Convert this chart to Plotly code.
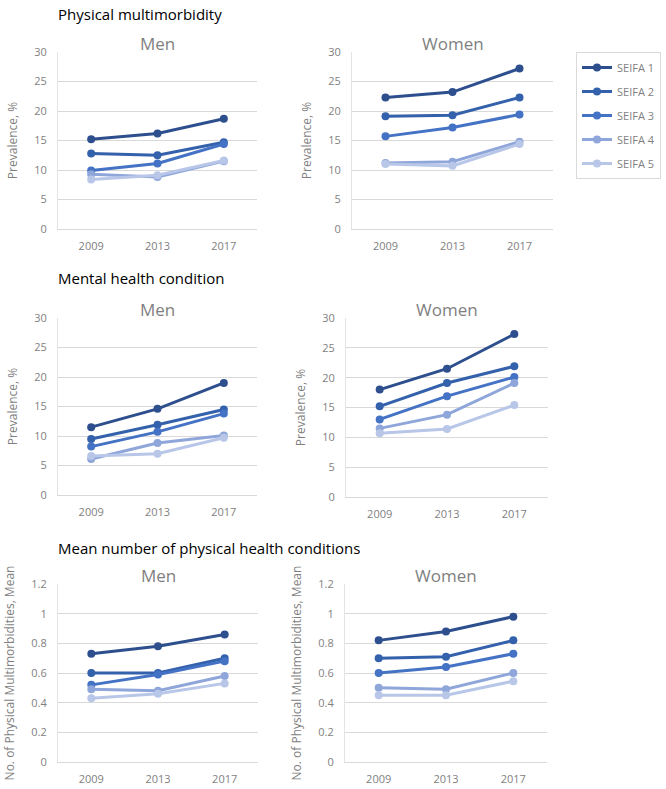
import plotly.graph_objects as go

W, H = 666, 789

years = ["2009", "2013", "2017"]
series_names = ["SEIFA 1", "SEIFA 2", "SEIFA 3", "SEIFA 4", "SEIFA 5"]
colors = ["#2E4F8E", "#3461AB", "#4472C4", "#8FA6DA", "#B8C6E8"]

phys_men = [
    [15.2, 16.2, 18.7],
    [12.8, 12.5, 14.7],
    [9.9, 11.1, 14.4],
    [9.3, 8.8, 11.5],
    [8.4, 9.1, 11.6],
]
phys_women = [
    [22.3, 23.2, 27.2],
    [19.1, 19.3, 22.3],
    [15.7, 17.2, 19.4],
    [11.2, 11.4, 14.8],
    [11.0, 10.7, 14.4],
]
mental_men = [
    [11.5, 14.6, 19.0],
    [9.5, 11.9, 14.5],
    [8.2, 10.7, 13.8],
    [6.1, 8.8, 10.1],
    [6.6, 7.0, 9.7],
]
mental_women = [
    [18.0, 21.5, 27.3],
    [15.2, 19.1, 21.9],
    [13.0, 16.9, 20.1],
    [11.5, 13.8, 19.1],
    [10.7, 11.4, 15.4],
]
mean_men = [
    [0.73, 0.78, 0.86],
    [0.60, 0.60, 0.70],
    [0.52, 0.59, 0.68],
    [0.49, 0.48, 0.58],
    [0.43, 0.46, 0.53],
]
mean_women = [
    [0.82, 0.88, 0.98],
    [0.70, 0.71, 0.82],
    [0.60, 0.64, 0.73],
    [0.50, 0.49, 0.60],
    [0.45, 0.45, 0.545],
]

section_titles = ["Physical multimorbidity", "Mental health condition",
                  "Mean number of physical health conditions"]
panel_titles = ["Men", "Women"]
ytitles = ["Prevalence, %", "Prevalence, %", "No. of Physical Multimorbidities, Mean"]

panels = [
    # data, x-domain px, y-domain px, yrange, dtick, row, col
    (phys_men, (58, 257), (52, 229), 30, 5, 0, 0),
    (phys_women, (352, 553), (52, 229), 30, 5, 0, 1),
    (mental_men, (58, 257), (318, 495), 30, 5, 1, 0),
    (mental_women, (346, 548), (318, 497), 30, 5, 1, 1),
    (mean_men, (58, 258), (584, 762), 1.2, 0.2, 2, 0),
    (mean_women, (345, 547), (584, 762), 1.2, 0.2, 2, 1),
]

FONT = "Open Sans"
GRAY = "#7F7F7F"
GRID = "#D9D9D9"

fig = go.Figure()
annotations = []
layout = {}

for i, (data, xd, yd, ymax, dt, row, col) in enumerate(panels):
    n = "" if i == 0 else str(i + 1)
    xa, ya = "x" + n, "y" + n
    for s in range(5):
        fig.add_trace(go.Scatter(
            x=years, y=data[s], name=series_names[s], mode="lines+markers",
            line=dict(color=colors[s], width=3),
            marker=dict(color=colors[s], size=8),
            xaxis=xa, yaxis=ya, legendgroup=series_names[s],
            showlegend=(i == 0),
        ))
    layout["xaxis" + n] = dict(
        domain=[xd[0] / W, xd[1] / W], anchor=ya, type="category",
        range=[-0.5, 2.5], showgrid=False, showline=True, linecolor=GRID,
        linewidth=1, ticks="", tickfont=dict(family=FONT, size=11, color=GRAY),
        ticklabelstandoff=7, fixedrange=True, automargin=False,
    )
    layout["yaxis" + n] = dict(
        domain=[1 - yd[1] / H, 1 - yd[0] / H], anchor=xa, range=[0, ymax],
        dtick=dt, showgrid=True, gridcolor=GRID, gridwidth=1, zeroline=False,
        showline=True, linecolor="#E4E4E4", linewidth=1,
        ticks="", tickfont=dict(family=FONT, size=11, color=GRAY),
        ticklabelstandoff=8, automargin=False, fixedrange=True,
        title=dict(text=ytitles[row], font=dict(family=FONT, size=12, color=GRAY),
                   standoff=14),
    )
    annotations.append(dict(
        text=panel_titles[col], x=(xd[0] + xd[1]) / 2 / W, y=1 - (yd[0] - 9) / H,
        xref="paper", yref="paper", xanchor="center", yanchor="middle",
        showarrow=False, font=dict(family=FONT, size=17, color=GRAY),
    ))

for row, ty in enumerate([14, 278, 548]):
    annotations.append(dict(
        text=section_titles[row], x=56 / W, y=1 - ty / H, xref="paper", yref="paper",
        xanchor="left", yanchor="middle", showarrow=False,
        font=dict(family=FONT, size=15, color="#000000"),
    ))

fig.update_layout(
    width=W, height=H, margin=dict(l=0, r=0, t=0, b=0, autoexpand=False),
    paper_bgcolor="white", plot_bgcolor="white",
    annotations=annotations,
    legend=dict(x=576 / W, y=1 - 52 / H, xanchor="left", yanchor="top",
                bordercolor=GRID, borderwidth=1, tracegroupgap=5,
                font=dict(family=FONT, size=11, color=GRAY),
                itemwidth=30),
    showlegend=True,
    **layout,
)

fig.write_html("out.html", config={"displayModeBar": False},
               post_script="document.body.style.margin='0px';document.body.style.overflow='hidden';")
